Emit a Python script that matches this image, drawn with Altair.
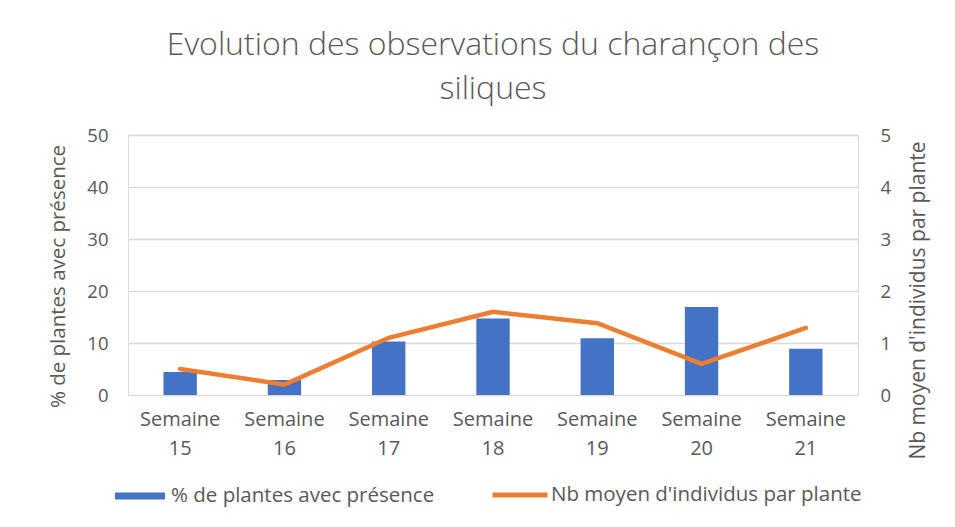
import altair as alt
import pandas as pd

weeks = ["Semaine 15", "Semaine 16", "Semaine 17", "Semaine 18", "Semaine 19", "Semaine 20", "Semaine 21"]
pct_presence = [4.4, 2.9, 10.3, 14.7, 10.9, 16.9, 8.9]
nb_moyen = [0.5, 0.2, 1.1, 1.6, 1.38, 0.6, 1.29]

s1 = "% de plantes avec présence"
s2 = "Nb moyen d'individus par plante"

df = pd.DataFrame({"week": weeks, "pct": pct_presence, "nb": nb_moyen, "s1": s1, "s2": s2})

FONT = "Open Sans"
GREY = "#595959"

x = alt.X("week:N", sort=weeks, title=None,
          scale=alt.Scale(paddingInner=0.68, paddingOuter=0.34),
          axis=alt.Axis(labelAngle=0, labelExpr="split(datum.label, ' ')", labelFontSize=20,
                        labelColor=GREY, labelFont=FONT, ticks=False, domain=False, labelPadding=14,
                        labelLineHeight=29))

bars = alt.Chart(df).mark_bar(color="#4472C4").encode(
    x=x,
    y=alt.Y("pct:Q", scale=alt.Scale(domain=[0, 50]),
            axis=alt.Axis(values=[0, 10, 20, 30, 40, 50], title=s1, titleFontSize=20.5, titleFontWeight="normal",
                          titleColor=GREY, titleFont=FONT, labelFontSize=18.5, labelColor=GREY, labelFont=FONT,
                          ticks=False, domain=False, gridColor="#d9d9d9", gridWidth=1.5, labelPadding=20,
                          titleX=-70, titleY=141, titleAngle=270, titleAlign="center", titleBaseline="middle")),
    fill=alt.Fill("s1:N", scale=alt.Scale(domain=[s1], range=["#4472C4"]),
                  legend=alt.Legend(orient="none", legendX=-13, legendY=336, title=None,
                                    symbolType="M-1,-0.14H1V0.14H-1Z", symbolSize=2500, labelFontSize=20.5,
                                    labelColor=GREY, labelFont=FONT, labelLimit=500,
                                    symbolStrokeWidth=0, padding=0, labelOffset=6)),
)

line = alt.Chart(df).mark_line(strokeWidth=4.5, color="#ED7D31", strokeCap="round").encode(
    x=alt.X("week:N", sort=weeks),
    y=alt.Y("nb:Q", scale=alt.Scale(domain=[0, 5]),
            axis=alt.Axis(orient="right", values=[0, 1, 2, 3, 4, 5], title=s2, titleFontSize=21,
                          titleFontWeight="normal", titleColor=GREY, titleFont=FONT, labelFontSize=18.5,
                          labelColor=GREY, labelFont=FONT, ticks=False, domain=False, grid=False,
                          labelPadding=22, titleX=60, titleY=165, titleAngle=270, titleAlign="center",
                          titleBaseline="middle")),
    stroke=alt.Stroke("s2:N", scale=alt.Scale(domain=[s2], range=["#ED7D31"]),
                      legend=alt.Legend(orient="none", legendX=362, legendY=330, title=None,
                                        symbolStrokeWidth=5, symbolSize=3025, labelFontSize=20.5,
                                        labelColor=GREY, labelFont=FONT, labelLimit=500, padding=0,
                                        labelOffset=1)),
)

chart = alt.layer(bars, line).resolve_scale(y="independent", fill="independent", stroke="independent").properties(
    width=730, height=260,
    title=alt.TitleParams(["Evolution des observations du charançon des", "siliques"], fontSize=32,
                          font=FONT, fontWeight=300, color=GREY, anchor="middle", lineHeight=44, offset=20),
    padding={"left": 120, "right": 89, "top": 127, "bottom": 124},
    autosize=alt.AutoSizeParams(type="none"),
).configure_view(stroke=None).configure(background="white")

chart.save("out.html", embed_options={"renderer": "svg", "actions": False})
